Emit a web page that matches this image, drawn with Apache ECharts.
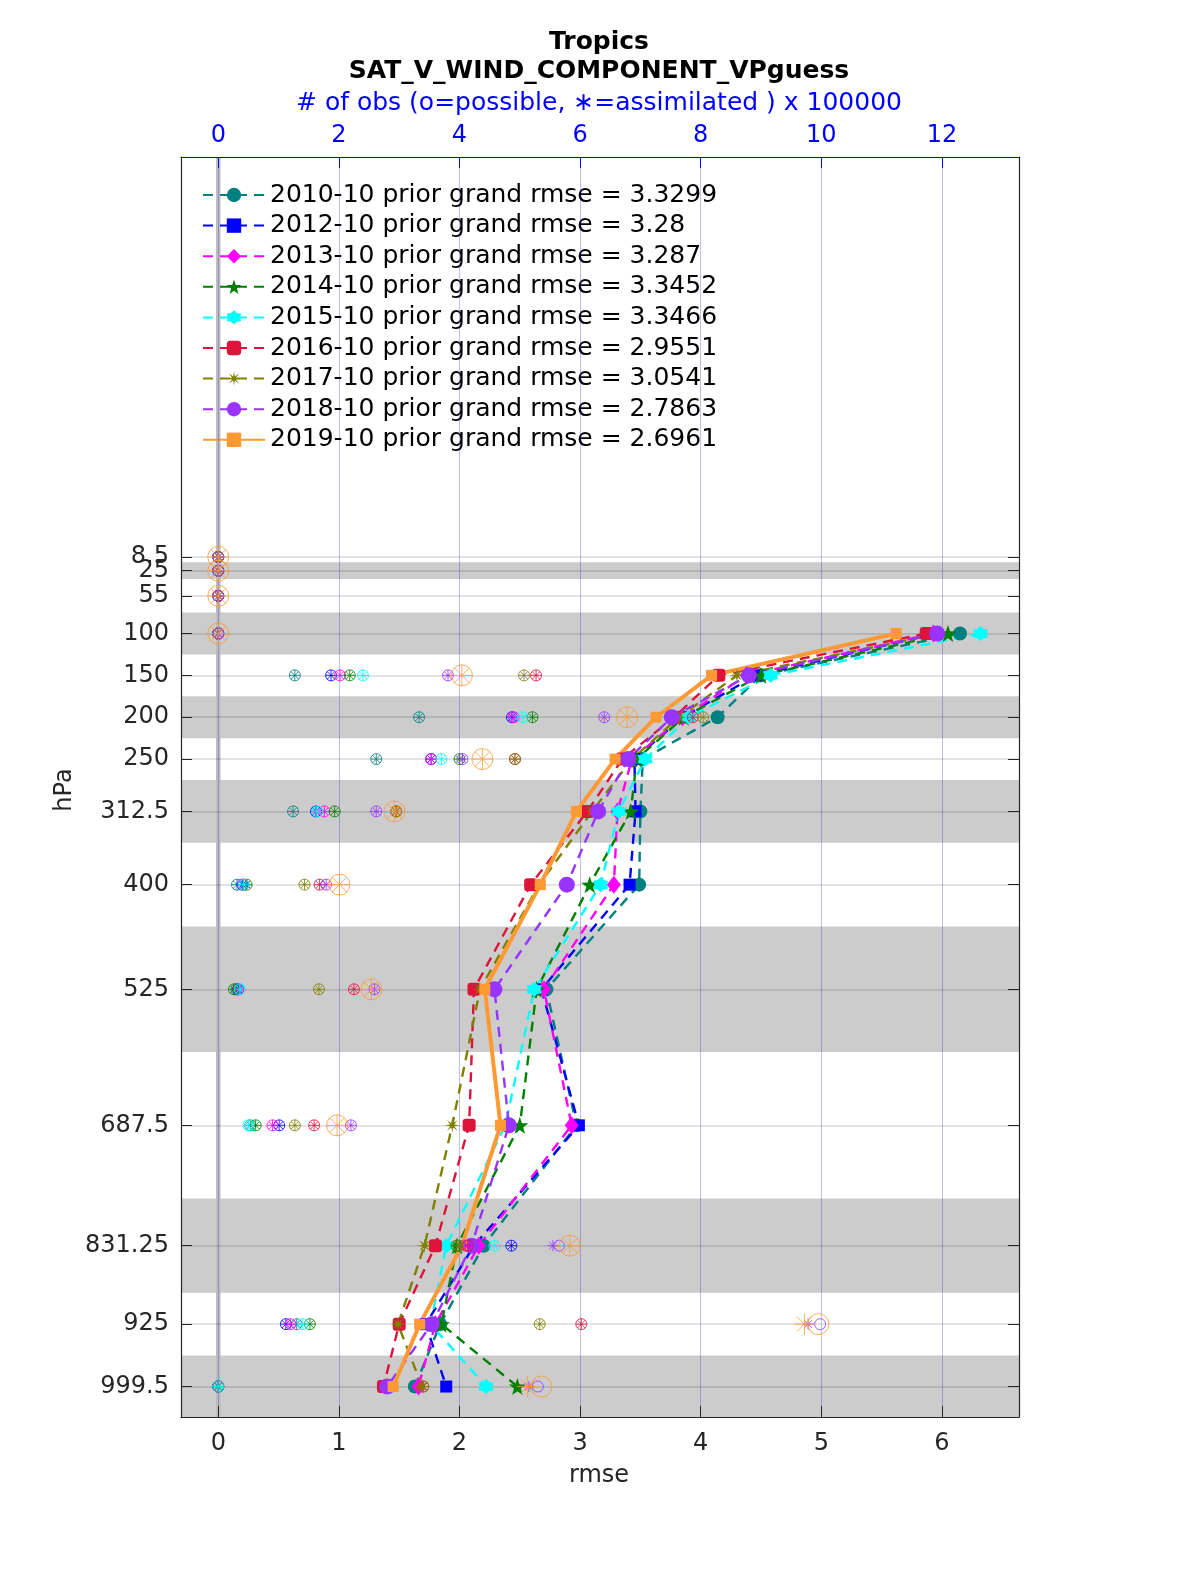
<!DOCTYPE html>
<html><head><meta charset="utf-8">
<script src="https://cdn.jsdelivr.net/npm/echarts@6.0.0/dist/echarts.min.js"></script>
<style>html,body{margin:0;padding:0;background:#fff}#c{width:1200px;height:1575px}</style>
</head><body><div id="c"></div>
<script>
// ---------------- data ----------------
const levels = [8.5, 25, 55, 100, 150, 200, 250, 312.5, 400, 525, 687.5, 831.25, 925, 999.5];
const rmseLevels = [100, 150, 200, 250, 312.5, 400, 525, 687.5, 831.25, 925, 999.5];
const rmseTicks = [0, 1, 2, 3, 4, 5, 6];
const obsTicks = [0, 2, 4, 6, 8, 10, 12];
const bandRanges = [[15, 35], [75, 125], [175, 225], [275, 350], [450, 600], [775, 887.5], [962.5, 1040]];

const periods = ['2010-10', '2012-10', '2013-10', '2014-10', '2015-10', '2016-10', '2017-10', '2018-10', '2019-10'];
const grandRmse = ['3.3299', '3.28', '3.287', '3.3452', '3.3466', '2.9551', '3.0541', '2.7863', '2.6961'];

// rmse at rmseLevels
const rmse2010 = [6.15, 4.50, 4.14, 3.52, 3.50, 3.49, 2.72, 2.97, 2.20, 1.84, 1.63];
const rmse2012 = [5.95, 4.46, 3.85, 3.45, 3.46, 3.41, 2.68, 2.99, 2.12, 1.72, 1.89];
const rmse2013 = [5.93, 4.38, 3.85, 3.43, 3.31, 3.28, 2.70, 2.93, 2.16, 1.80, 1.66];
const rmse2014 = [6.05, 4.50, 3.86, 3.47, 3.42, 3.08, 2.64, 2.50, 1.98, 1.85, 2.48];
const rmse2015 = [6.32, 4.58, 3.90, 3.54, 3.32, 3.17, 2.62, 2.38, 1.89, 1.76, 2.22];
const rmse2016 = [5.87, 4.15, 3.78, 3.35, 3.06, 2.59, 2.12, 2.08, 1.80, 1.50, 1.37];
const rmse2017 = [5.98, 4.30, 3.82, 3.43, 3.10, 2.66, 2.17, 1.94, 1.71, 1.49, 1.69];
const rmse2018 = [5.96, 4.40, 3.76, 3.40, 3.15, 2.89, 2.29, 2.41, 2.10, 1.77, 1.40];
const rmse2019 = [5.62, 4.09, 3.63, 3.29, 2.97, 2.67, 2.21, 2.34, 2.02, 1.67, 1.45];

// # of obs (x 100000) at levels : possible / assimilated
const poss2010 = [0, 0, 0, 0, 1.27, 3.33, 2.62, 1.24, 0.31, 0.30, 0.53, 4.00, 1.30, 0];
const assim2010 = [0, 0, 0, 0, 1.27, 3.33, 2.62, 1.24, 0.31, 0.30, 0.53, 4.00, 1.30, 0];
const poss2012 = [0, 0, 0, 0, 1.87, 4.87, 3.53, 1.62, 0.40, 0.33, 1.01, 4.86, 1.12, 0];
const assim2012 = [0, 0, 0, 0, 1.87, 4.87, 3.53, 1.62, 0.40, 0.33, 1.01, 4.86, 1.12, 0];
const poss2013 = [0, 0, 0, 0, 2.02, 4.90, 3.53, 1.76, 0.42, 0.33, 0.90, 4.10, 1.20, 0];
const assim2013 = [0, 0, 0, 0, 2.02, 4.90, 3.53, 1.76, 0.42, 0.33, 0.90, 4.10, 1.20, 0];
const poss2014 = [0, 0, 0, 0, 2.18, 5.21, 4.00, 1.93, 0.47, 0.26, 0.62, 3.95, 1.52, 0];
const assim2014 = [0, 0, 0, 0, 2.18, 5.21, 4.00, 1.93, 0.47, 0.26, 0.62, 3.95, 1.52, 0];
const poss2015 = [0, 0, 0, 0, 2.40, 5.05, 3.70, 1.64, 0.42, 0.36, 0.50, 4.58, 1.40, 0];
const assim2015 = [0, 0, 0, 0, 2.40, 5.05, 3.70, 1.64, 0.42, 0.36, 0.50, 4.58, 1.40, 0];
const poss2016 = [0, 0, 0, 0, 5.27, 7.87, 4.92, 2.95, 1.68, 2.25, 1.59, 4.14, 6.02, 3.40];
const assim2016 = [0, 0, 0, 0, 5.27, 7.87, 4.92, 2.95, 1.68, 2.25, 1.59, 4.14, 6.02, 3.40];
const poss2017 = [0, 0, 0, 0, 5.07, 8.04, 4.92, 2.95, 1.43, 1.67, 1.27, 3.98, 5.33, 3.40];
const assim2017 = [0, 0, 0, 0, 5.07, 8.04, 4.92, 2.95, 1.43, 1.67, 1.27, 3.98, 5.33, 3.40];
const poss2018 = [0, 0, 0, 0, 3.81, 6.40, 4.05, 2.62, 1.79, 2.59, 2.20, 5.65, 9.98, 5.30];
const assim2018 = [0, 0, 0, 0, 3.81, 6.40, 4.05, 2.62, 1.79, 2.59, 2.20, 5.55, 9.78, 5.15];
const poss2019 = [0, 0, 0, 0, 4.04, 6.78, 4.38, 2.92, 2.01, 2.54, 1.97, 5.83, 9.95, 5.36];
const assim2019 = [0, 0, 0, 0, 4.04, 6.78, 4.38, 2.92, 2.01, 2.54, 1.97, 5.83, 9.72, 5.13];

const rmseAll = [rmse2010, rmse2012, rmse2013, rmse2014, rmse2015, rmse2016, rmse2017, rmse2018, rmse2019];
const possAll = [poss2010, poss2012, poss2013, poss2014, poss2015, poss2016, poss2017, poss2018, poss2019];
const assimAll = [assim2010, assim2012, assim2013, assim2014, assim2015, assim2016, assim2017, assim2018, assim2019];

// ---------------- styles ----------------
const colors = ['#008080', '#0000ff', '#ff00ff', '#008000', '#00ffff', '#dc143c', '#808000', '#9933ff', '#ff9933'];
const PENTA = 'path://M0,-1L0.235,-0.324L0.951,-0.309L0.380,0.124L0.588,0.809L0,0.4L-0.588,0.809L-0.380,0.124L-0.951,-0.309L-0.235,-0.324Z';
const HEXA = 'path://M0,-1L0.36,-0.62L0.866,-0.5L0.72,0L0.866,0.5L0.36,0.62L0,1L-0.36,0.62L-0.866,0.5L-0.72,0L-0.866,-0.5L-0.36,-0.62Z';
const STAR8 = 'path://M0,-1L0.115,-0.277L0.707,-0.707L0.277,-0.115L1,0L0.277,0.115L0.707,0.707L0.115,0.277L0,1L-0.115,0.277L-0.707,0.707L-0.277,0.115L-1,0L-0.277,-0.115L-0.707,-0.707L-0.115,-0.277Z';
const ASTER = 'path://M0,-1L0,1M-1,0L1,0M-0.707,-0.707L0.707,0.707M-0.707,0.707L0.707,-0.707';
const symbols = ['circle', 'rect', 'diamond', PENTA, HEXA, 'roundRect', STAR8, 'circle', 'rect'];
const symSizes = [14, 12, [14, 18], 17, 15, 13, 15, 16, 11];

const X_MIN = -0.309, X_MAX = 6.639, Y_MIN = -469.2, Y_MAX = 1035.9;
const FONT = 'DejaVu Sans';
const AX = '#262626';

const series = [];
// background bands
series.push({
  type: 'line', data: [], xAxisIndex: 0, yAxisIndex: 0, z: 1, silent: true,
  markArea: { silent: true, itemStyle: { color: '#cccccc' },
    data: bandRanges.map(b => [{ yAxis: b[0] }, { yAxis: b[1] }]) }
});
// horizontal grid lines at levels
series.push({
  type: 'line', data: [], xAxisIndex: 0, yAxisIndex: 0, z: 2, silent: true,
  markLine: { silent: true, symbol: ['none', 'none'], label: { show: false },
    lineStyle: { color: 'rgba(0,0,0,0.15)', type: 'solid', width: 1.5 },
    data: levels.map(v => ({ yAxis: v })) }
});
// gray zero line
series.push({
  type: 'line', xAxisIndex: 0, yAxisIndex: 0, z: 2, silent: true, symbol: 'none',
  lineStyle: { color: '#bdbdbd', width: 4.5 },
  data: [[0, Y_MIN], [0, Y_MAX]]
});
// vertical grid lines
series.push({
  type: 'line', data: [], xAxisIndex: 0, yAxisIndex: 0, z: 3, silent: true,
  markLine: { silent: true, symbol: ['none', 'none'], label: { show: false },
    lineStyle: { color: 'rgba(40,40,210,0.3)', type: 'solid', width: 1 },
    data: rmseTicks.map(v => ({ xAxis: v })) }
});

const legendNames = [];
for (let i = 0; i < 9; i++) {
  const name = periods[i] + ' prior grand rmse = ' + grandRmse[i];
  legendNames.push(name);
  const last = i === 8;
  series.push({
    name: name, type: 'line', xAxisIndex: 0, yAxisIndex: 0, z: 5,
    data: rmseLevels.map((lv, k) => [rmseAll[i][k], lv]),
    symbol: symbols[i], symbolSize: symSizes[i], showSymbol: true,
    itemStyle: { color: colors[i] },
    lineStyle: { color: colors[i], width: last ? 4 : 2.4, type: last ? 'solid' : [10, 7] },
    emphasis: { disabled: true }, silent: true
  });
}
for (let i = 0; i < 9; i++) {
  const big = i === 8;
  const sz = big ? 21 : 11;
  series.push({
    type: 'scatter', xAxisIndex: 1, yAxisIndex: 0, z: 6, silent: true,
    data: levels.map((lv, k) => [possAll[i][k], lv]),
    symbol: 'circle', symbolSize: sz,
    itemStyle: { color: 'rgba(0,0,0,0)', borderColor: colors[i], borderWidth: 1 }
  });
  series.push({
    type: 'scatter', xAxisIndex: 1, yAxisIndex: 0, z: 6, silent: true,
    data: levels.map((lv, k) => [assimAll[i][k], lv]),
    symbol: ASTER, symbolSize: sz,
    itemStyle: { color: 'rgba(0,0,0,0)', borderColor: colors[i], borderWidth: 1 }
  });
}

// labels: the two closely-spaced top levels are split across two left axes so both show
const labelLevelsA = levels.filter(v => v !== 25);
const labelLevelsB = [25];

const yBase = { type: 'value', inverse: true, min: Y_MIN, max: Y_MAX, z: 10, splitLine: { show: false } };

const option = {
  animation: false,
  backgroundColor: '#ffffff',
  textStyle: { fontFamily: FONT },
  grid: { left: 181, right: 181, top: 157, bottom: 158, containLabel: false },
  legend: {
    data: legendNames, orient: 'vertical', left: 197, top: 175,
    itemWidth: 62, itemHeight: 18, itemGap: 0.6,
    textStyle: { fontFamily: FONT, fontSize: 25, color: '#000', lineHeight: 30 },
    selectedMode: false
  },
  xAxis: [
    { type: 'value', position: 'bottom', min: X_MIN, max: X_MAX, z: 10,
      axisLine: { show: true, onZero: false, lineStyle: { color: AX, width: 1.2 } },
      axisTick: { show: true, inside: true, length: 11, lineStyle: { color: AX }, customValues: rmseTicks },
      axisLabel: { fontFamily: FONT, fontSize: 24, color: AX, margin: 15, customValues: rmseTicks },
      splitLine: { show: false } },
    { type: 'value', position: 'top', min: 2 * X_MIN, max: 2 * X_MAX, z: 10,
      axisLine: { show: true, onZero: false, lineStyle: { color: '#0000ff', width: 1.2 } },
      axisTick: { show: true, inside: true, length: 11, lineStyle: { color: '#0000ff' }, customValues: obsTicks },
      axisLabel: { fontFamily: FONT, fontSize: 24, color: '#0000ff', margin: 9, customValues: obsTicks },
      splitLine: { show: false } }
  ],
  yAxis: [
    Object.assign({}, yBase, { position: 'left',
      axisLine: { show: true, onZero: false, lineStyle: { color: AX, width: 1.2 } },
      axisTick: { show: true, inside: true, length: 11, lineStyle: { color: AX }, customValues: levels },
      axisLabel: { fontFamily: FONT, fontSize: 24, color: AX, margin: 12, customValues: labelLevelsA,
        showMinLabel: true, showMaxLabel: true, hideOverlap: false, formatter: v => String(v) } }),
    Object.assign({}, yBase, { position: 'right',
      axisLine: { show: true, onZero: false, lineStyle: { color: AX, width: 1.2 } },
      axisTick: { show: true, inside: true, length: 11, lineStyle: { color: AX }, customValues: levels },
      axisLabel: { show: false } }),
    Object.assign({}, yBase, { position: 'left', offset: 0,
      axisLine: { show: false }, axisTick: { show: false },
      axisLabel: { fontFamily: FONT, fontSize: 24, color: AX, margin: 12, customValues: labelLevelsB,
        showMinLabel: true, showMaxLabel: true, hideOverlap: false, formatter: v => String(v) } })
  ],
  graphic: [
    { type: 'text', x: 599, y: 42, style: { text: 'Tropics', font: 'bold 25px "DejaVu Sans"', fill: '#000', textAlign: 'center', textVerticalAlign: 'middle', align: 'center', verticalAlign: 'middle' } },
    { type: 'text', x: 599, y: 71, style: { text: 'SAT_V_WIND_COMPONENT_VPguess', font: 'bold 25px "DejaVu Sans"', fill: '#000', textAlign: 'center', textVerticalAlign: 'middle', align: 'center', verticalAlign: 'middle' } },
    { type: 'text', x: 599, y: 103, style: { text: '# of obs (o=possible, \u2217=assimilated ) x 100000', font: '25px "DejaVu Sans"', fill: '#0000ff', textAlign: 'center', textVerticalAlign: 'middle', align: 'center', verticalAlign: 'middle' } },
    { type: 'text', x: 599, y: 1476, style: { text: 'rmse', font: '24px "DejaVu Sans"', fill: AX, textAlign: 'center', textVerticalAlign: 'middle', align: 'center', verticalAlign: 'middle' } },
    { type: 'text', x: 65, y: 790, rotation: Math.PI / 2, style: { text: 'hPa', font: '24px "DejaVu Sans"', fill: AX, textAlign: 'center', textVerticalAlign: 'middle', align: 'center', verticalAlign: 'middle' } }
  ],
  series: series
};
const chart = echarts.init(document.getElementById('c'));
chart.setOption(option);
</script>
</body></html>
